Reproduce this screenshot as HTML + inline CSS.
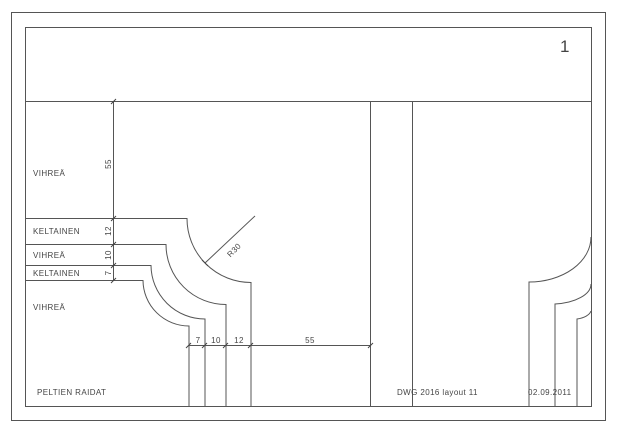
<!DOCTYPE html>
<html><head><meta charset="utf-8"><style>
html,body{margin:0;padding:0;background:#fff;}
svg{display:block;}
text{font-family:"Liberation Sans",sans-serif;fill:#444;font-size:8px;letter-spacing:0.4px;}
</style></head><body>
<svg width="618" height="433" viewBox="0 0 618 433" xmlns="http://www.w3.org/2000/svg">
<g fill="none" stroke="#555" stroke-width="1">
<rect x="11.5" y="12.5" width="594" height="408"/>
<rect x="25.5" y="27.5" width="566" height="379"/>
<line x1="25" y1="101.5" x2="591" y2="101.5"/>
<line x1="113.5" y1="101" x2="113.5" y2="281"/>
<line x1="370.5" y1="101" x2="370.5" y2="406"/>
<line x1="412.5" y1="101" x2="412.5" y2="406"/>
<path d="M25 218.5 H187 A64 64 0 0 0 251 282.5 V406"/>
<path d="M25 244.5 H166 A60 60 0 0 0 226 304.5 V406"/>
<path d="M25 265.5 H151 A54 54 0 0 0 205 319 V406"/>
<path d="M25 280.5 H143 A46 46 0 0 0 189 326 V406"/>
<line x1="255" y1="216" x2="205" y2="263"/>
<line x1="189" y1="345.5" x2="371" y2="345.5"/>
<path d="M529 406 V282 A62 45 0 0 0 591 237"/>
<path d="M555 406 V304 A40 20 0 0 0 591 284"/>
<path d="M577 406 V319 A20 10 0 0 0 591 311"/>
</g>
<g stroke="#444" stroke-width="1">
<line x1="111" y1="104" x2="116" y2="99"/>
<line x1="111" y1="221" x2="116" y2="216"/>
<line x1="111" y1="247" x2="116" y2="242"/>
<line x1="111" y1="268" x2="116" y2="263"/>
<line x1="111" y1="283" x2="116" y2="278"/>
<line x1="186" y1="348" x2="191" y2="343"/>
<line x1="202" y1="348" x2="207" y2="343"/>
<line x1="223" y1="348" x2="228" y2="343"/>
<line x1="248" y1="348" x2="253" y2="343"/>
<line x1="368" y1="348" x2="373" y2="343"/>
<line x1="202" y1="260" x2="208" y2="266"/>
</g>
<text x="33" y="176">VIHREÄ</text>
<text x="33" y="234">KELTAINEN</text>
<text x="33" y="258">VIHREÄ</text>
<text x="33" y="276">KELTAINEN</text>
<text x="33" y="310">VIHREÄ</text>
<text x="37" y="395">PELTIEN RAIDAT</text>
<text x="397" y="395">DWG 2016 layout 11</text>
<text x="528" y="395">02.09.2011</text>
<text x="560" y="52" style="font-size:17px">1</text>
<text transform="translate(111,164) rotate(-90)" text-anchor="middle">55</text>
<text transform="translate(111,231) rotate(-90)" text-anchor="middle">12</text>
<text transform="translate(111,255) rotate(-90)" text-anchor="middle">10</text>
<text transform="translate(111,273) rotate(-90)" text-anchor="middle">7</text>
<text x="198" y="343" text-anchor="middle">7</text>
<text x="216" y="343" text-anchor="middle">10</text>
<text x="239" y="343" text-anchor="middle">12</text>
<text x="310" y="343" text-anchor="middle">55</text>
<text transform="translate(236,252) rotate(-45)" text-anchor="middle">R30</text>
</svg>
</body></html>
